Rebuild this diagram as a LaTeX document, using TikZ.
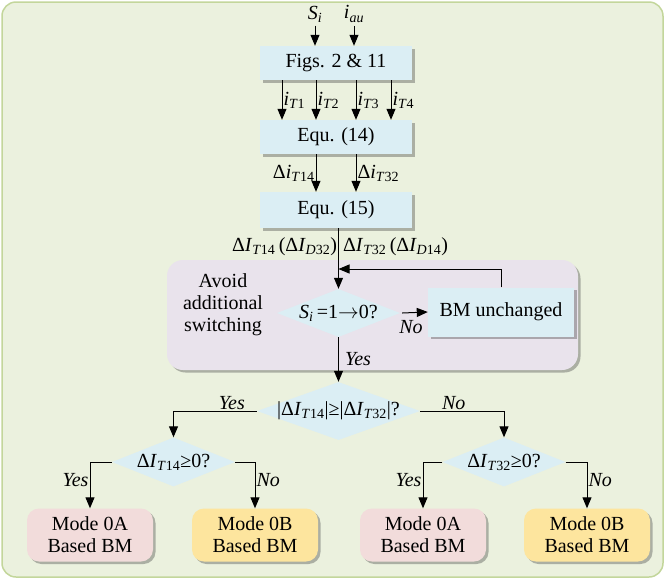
\documentclass[tikz,border=0pt]{standalone}
\usepackage{fontspec}
\setmainfont{Liberation Serif}
\usetikzlibrary{shapes.geometric,shadows,arrows.meta}
\definecolor{bgfill}{HTML}{EBF1DE}
\definecolor{bgdraw}{HTML}{C3D69B}
\definecolor{bluefill}{HTML}{DBEEF4}
\definecolor{purpfill}{HTML}{E9E3EC}
\definecolor{pinkfill}{HTML}{F2DCDB}
\definecolor{yelfill}{HTML}{FDE59E}
\newcommand{\vi}[1]{\textit{#1}}
\newcommand{\vs}[1]{\textsubscript{#1}}
\tikzset{
  shad/.style={drop shadow={shadow xshift=2.5pt,shadow yshift=-2.5pt,opacity=0.4,fill=black!70}},
  bbox/.style={rectangle,fill=bluefill,shad,minimum width=152pt,minimum height=34pt,inner sep=0pt},
  dia/.style={diamond,fill=bluefill,inner sep=0pt,aspect=2.5},
  mode/.style={rectangle,rounded corners=12pt,shad,minimum width=126pt,minimum height=53pt,inner sep=0pt,align=center},
  arr/.style={-{Triangle[length=11pt,width=9pt]},line width=1pt},
  ln/.style={line width=1pt},
  lbl/.style={inner sep=1pt},
}
\begin{document}
\begin{tikzpicture}[x=1pt,y=-1pt,font=\fontsize{20}{22}\selectfont]
\useasboundingbox (0,0) rectangle (665,579);
\draw[bgdraw,fill=bgfill,line width=1.5pt,rounded corners=14pt] (2,2) rectangle (663,577);
\fill[purpfill,rounded corners=16pt,shad] (167,260) rectangle (578,370);
\node[align=center] (avoid) at (223,305) {Avoid\\additional\\switching};
% inputs
\node (si) at (315,14) {\vi{S}\vs{\vi{i}}};
\node (iau) at (354,14) {\vi{i}\vs{\vi{au}}};
\node[bbox] (figs) at (336,63) {Figs. 2 \& 11};
\node[bbox] (eq14) at (336,137) {Equ. (14)};
\node[bbox,minimum height=36pt] (eq15) at (336,210) {Equ. (15)};
\draw[arr] (si.south) -- (si.south |- figs.north);
\draw[arr] (iau.south) -- (iau.south |- figs.north);
\draw[arr] ([xshift=-54pt]figs.south) -- node[right,lbl] {\vi{i}\vs{\vi{T}1}} ([xshift=-54pt]eq14.north);
\draw[arr] ([xshift=-20pt]figs.south) -- node[right,lbl] {\vi{i}\vs{\vi{T}2}} ([xshift=-20pt]eq14.north);
\draw[arr] ([xshift=20pt]figs.south) -- node[right,lbl] {\vi{i}\vs{\vi{T}3}} ([xshift=20pt]eq14.north);
\draw[arr] ([xshift=55pt]figs.south) -- node[right,lbl] {\vi{i}\vs{\vi{T}4}} ([xshift=55pt]eq14.north);
\draw[arr] ([xshift=-20pt]eq14.south) -- node[left,lbl] {Δ\vi{i}\vs{\vi{T}14}} ([xshift=-20pt]eq15.north);
\draw[arr] ([xshift=20pt]eq14.south) -- node[right,lbl] {Δ\vi{i}\vs{\vi{T}32}} ([xshift=20pt]eq15.north);
% first decision
\node[dia,minimum width=123pt,minimum height=48pt] (d1) at (338.5,313) {\makebox[0pt]{\vi{S}\vs{\vi{i}}\,=1$\rightarrow$0?}};
\node[bbox,minimum width=146pt,minimum height=49pt] (bm) at (501,312) {BM unchanged};
\coordinate (fb) at (338.5,269);
\draw[ln] (eq15.south -| d1.north) -- node[pos=0.45,left,lbl] {Δ\vi{I}\vs{\vi{T}14}\,(Δ\vi{I}\vs{\vi{D}32})} node[pos=0.45,right,lbl,xshift=3pt] {Δ\vi{I}\vs{\vi{T}32}\,(Δ\vi{I}\vs{\vi{D}14})} (fb);
\draw[arr] (fb) -- (d1.north);
\draw[arr] (bm.north) |- (fb);
\draw[arr] ([xshift=2pt]d1.east) -- (bm.west);
\node[lbl] (no1) at (411,327) {\vi{No}};
% second decision
\node[dia,minimum width=163pt,minimum height=58pt] (d2) at (338.5,411) {\makebox[0pt]{|Δ\vi{I}\vs{\vi{T}14}|≥|Δ\vi{I}\vs{\vi{T}32}|?}};
\draw[arr] (d1.south) -- node[right,lbl,xshift=5pt] {\vi{Yes}} (d2.north);
\node[dia,minimum width=123pt,minimum height=49pt] (d3) at (173.5,462) {\makebox[0pt]{Δ\vi{I}\vs{\vi{T}14}≥0?}};
\node[dia,minimum width=123pt,minimum height=49pt] (d4) at (504,462) {\makebox[0pt]{Δ\vi{I}\vs{\vi{T}32}≥0?}};
\draw[arr] (d2.west) -- node[above,lbl,pos=0.3] {\vi{Yes}} (d2.west -| d3.north) -- (d3.north);
\draw[arr] (d2.east) -- node[above,lbl,pos=0.4] {\vi{No}} (d2.east -| d4.north) -- (d4.north);
% modes
\node[mode,fill=pinkfill] (m1) at (90,535) {Mode 0A\\Based BM};
\node[mode,fill=yelfill] (m2) at (255,535) {Mode 0B\\Based BM};
\node[mode,fill=pinkfill] (m3) at (423,535) {Mode 0A\\Based BM};
\node[mode,fill=yelfill] (m4) at (587,535) {Mode 0B\\Based BM};
\draw[arr] (d3.west) -| node[left,lbl,pos=0.7] {\vi{Yes}} (m1.north);
\draw[arr] (d3.east) -| node[right,lbl,pos=0.7] {\vi{No}} (m2.north);
\draw[arr] (d4.west) -| node[left,lbl,pos=0.7] {\vi{Yes}} (m3.north);
\draw[arr] (d4.east) -| node[right,lbl,pos=0.7] {\vi{No}} (m4.north);
\end{tikzpicture}
\end{document}
